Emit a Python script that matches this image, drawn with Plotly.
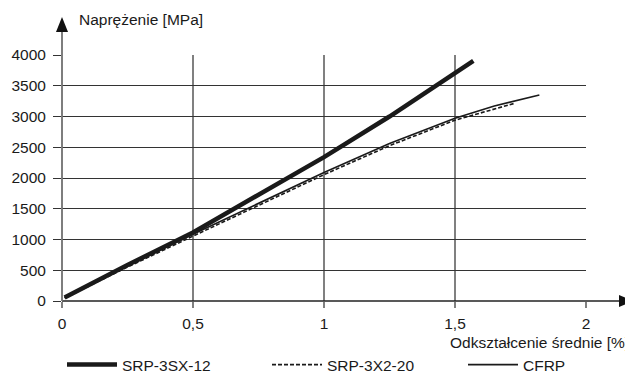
import plotly.graph_objects as go

# Data (strain [%], stress [MPa])
srp3sx_x = [0.01, 0.25, 0.5, 0.75, 1.0, 1.25, 1.4, 1.57]
srp3sx_y = [55, 585, 1115, 1720, 2340, 3000, 3420, 3905]

srp3x2_x = [0.01, 0.25, 0.5, 0.75, 1.0, 1.25, 1.5, 1.728]
srp3x2_y = [48, 552, 1055, 1555, 2055, 2525, 2940, 3215]

cfrp_x = [0.01, 0.25, 0.5, 0.75, 1.0, 1.25, 1.5, 1.65, 1.822]
cfrp_y = [55, 570, 1085, 1590, 2090, 2560, 2970, 3170, 3350]

x_ticks = [0, 0.5, 1, 1.5, 2]
x_tick_labels = ["0", "0,5", "1", "1,5", "2"]
y_ticks = [0, 500, 1000, 1500, 2000, 2500, 3000, 3500, 4000]

FONT = "Liberation Sans, Arial, sans-serif"
FS = 15.5

# The page body has an 8px default margin; size the figure to fill the rest.
OFF = 8
W, H = 633 - OFF, 377 - OFF
ML, MR, MT, MB = 62 - OFF, 47, 55 - OFF, 76
pw = W - ML - MR
ph = H - MT - MB


def px(xp):  # target-window pixel x -> paper
    return (xp - OFF - ML) / pw


def py(yp):  # target-window pixel y -> paper
    return (H - MB - (yp - OFF)) / ph


fig = go.Figure()
fig.add_trace(go.Scatter(x=cfrp_x, y=cfrp_y, mode="lines", name="CFRP",
                         line=dict(color="#1a1a1a", width=1.6), legend="legend3"))
fig.add_trace(go.Scatter(x=srp3x2_x, y=srp3x2_y, mode="lines", name="SRP-3X2-20",
                         line=dict(color="#1a1a1a", width=1.6, dash="4px,2px"), legend="legend2"))
fig.add_trace(go.Scatter(x=srp3sx_x, y=srp3sx_y, mode="lines", name="SRP-3SX-12",
                         line=dict(color="#1a1a1a", width=4.5), legend="legend"))

leg_common = dict(orientation="h", xanchor="left", yanchor="middle", y=py(365),
                  font=dict(size=FS, family=FONT, color="#1a1a1a"),
                  bgcolor="rgba(0,0,0,0)", itemwidth=50, borderwidth=0)

fig.update_layout(
    width=W, height=H,
    margin=dict(l=ML, r=MR, t=MT, b=MB, autoexpand=False),
    paper_bgcolor="white", plot_bgcolor="white",
    font=dict(family=FONT, size=FS, color="#1a1a1a"),
    showlegend=True,
    legend=dict(x=px(62), **leg_common),
    legend2=dict(x=px(267), **leg_common),
    legend3=dict(x=px(463), **leg_common),
    xaxis=dict(range=[0, 2], tickvals=x_ticks, ticktext=x_tick_labels,
               showgrid=True, gridcolor="#808080", gridwidth=1.5,
               ticks="outside", ticklen=6, tickcolor="#808080", tickwidth=1.5,
               ticklabelstandoff=2,
               showline=False, zeroline=False, fixedrange=True),
    yaxis=dict(range=[0, 4000], tickvals=y_ticks,
               showgrid=True, gridcolor="#333333", gridwidth=1,
               ticks="outside", ticklen=8, tickcolor="#333333", tickwidth=1,
               ticklabelstandoff=4,
               showline=False, zeroline=False, fixedrange=True),
)

# Axis lines with arrows (paper coordinates extending beyond plot area)
fig.add_shape(type="line", xref="paper", yref="paper", x0=px(62), x1=px(621), y0=0, y1=0,
              line=dict(color="#222222", width=1.5))
fig.add_shape(type="path", xref="paper", yref="paper",
              path=f"M {px(633)},{py(301)} L {px(619)},{py(295)} L {px(619)},{py(307)} Z",
              fillcolor="#111111", line=dict(width=0))
fig.add_shape(type="line", xref="paper", yref="paper", x0=0, x1=0, y0=0, y1=py(30),
              line=dict(color="#707070", width=1.8))
fig.add_shape(type="path", xref="paper", yref="paper",
              path=f"M {px(62)},{py(17)} L {px(56)},{py(32)} L {px(68)},{py(32)} Z",
              fillcolor="#111111", line=dict(width=0))

fig.add_annotation(text="Naprężenie [MPa]", xref="paper", yref="paper",
                   x=px(77), y=py(20), xanchor="left", yanchor="middle",
                   showarrow=False, font=dict(size=FS))
fig.add_annotation(text="Odkształcenie średnie [%]", xref="paper", yref="paper",
                   x=px(631), y=py(342), xanchor="right", yanchor="middle",
                   showarrow=False, font=dict(size=FS))

fig.write_html("out.html")
